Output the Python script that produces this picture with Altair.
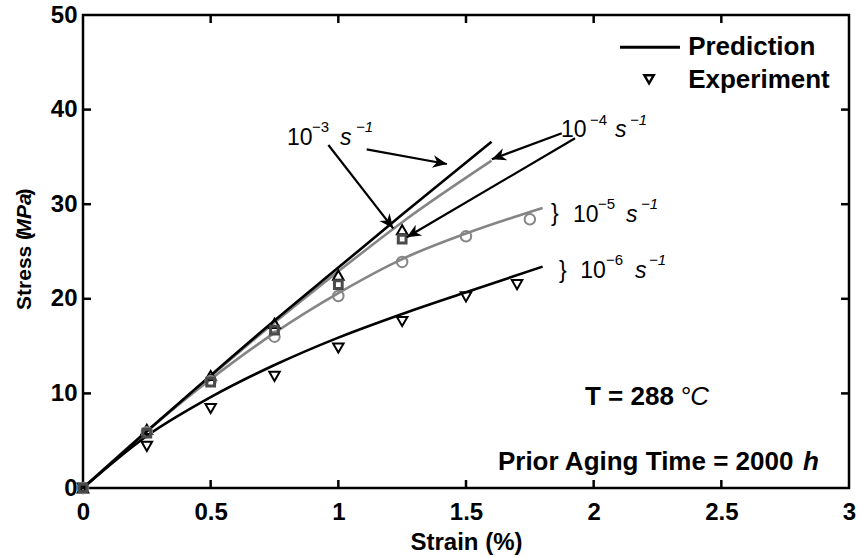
import math
import altair as alt
import pandas as pd

FONT = "Liberation Sans"
W, H = 766, 473

# ---------------- data ----------------
x_ticks = [0, 0.5, 1, 1.5, 2, 2.5, 3]
y_ticks = [0, 10, 20, 30, 40, 50]

pred3_strain = [0, 0.25, 0.5, 0.75, 1.0, 1.25, 1.6]
pred3_stress = [0, 6.0, 11.9, 17.7, 23.3, 28.9, 36.6]
pred4_strain = [0, 0.25, 0.5, 0.75, 1.0, 1.25, 1.6]
pred4_stress = [0, 6.0, 11.8, 17.5, 22.9, 28.1, 34.6]
pred5_strain = [0, 0.25, 0.5, 0.75, 1.0, 1.25, 1.5, 1.8]
pred5_stress = [0, 6.0, 11.5, 16.4, 20.6, 24.2, 26.9, 29.6]
pred6_strain = [0, 0.25, 0.5, 0.75, 1.0, 1.25, 1.5, 1.8]
pred6_stress = [0, 5.5, 9.6, 13.0, 15.9, 18.4, 20.7, 23.4]

exp3_strain = [0, 0.25, 0.5, 0.75, 1.0, 1.25]
exp3_stress = [0, 6.2, 11.9, 17.4, 22.5, 27.3]
exp4_strain = [0, 0.25, 0.5, 0.75, 1.0, 1.25]
exp4_stress = [0, 5.8, 11.2, 16.7, 21.5, 26.3]
exp5_strain = [0, 0.25, 0.5, 0.75, 1.0, 1.25, 1.5, 1.75]
exp5_stress = [0, 5.9, 11.3, 16.0, 20.3, 23.9, 26.6, 28.4]
exp6_strain = [0, 0.25, 0.5, 0.75, 1.0, 1.25, 1.5, 1.7]
exp6_stress = [0, 4.4, 8.4, 11.8, 14.8, 17.6, 20.2, 21.5]

xs = alt.Scale(domain=[0, 3], nice=False, zero=False)
ys = alt.Scale(domain=[0, 50], nice=False, zero=False)
AX = alt.Axis(
    values=x_ticks, format="~g", domain=False, ticks=False, grid=False,
    labelFont=FONT, labelFontSize=24, labelFontWeight="bold", labelColor="black",
    labelPadding=12, labelFlush=False,
    title="Strain (%)", titleFont=FONT, titleFontSize=24, titleFontWeight="bold",
    titleColor="black", titlePadding=6)
AY = alt.Axis(
    values=y_ticks, format="d", domain=False, ticks=False, grid=False,
    labelFont=FONT, labelFontSize=24, labelFontWeight="bold", labelColor="black",
    labelPadding=6, labelFlush=False, title="")


def X(f="x"):
    return alt.X(f"{f}:Q", scale=xs, axis=AX, title="Strain (%)")


def Y(f="y"):
    return alt.Y(f"{f}:Q", scale=ys, axis=AY, title="")


def df(xv, yv, **extra):
    d = pd.DataFrame({"x": xv, "y": yv})
    for k, v in extra.items():
        d[k] = v
    return d


BLACK = "#000000"
GRAY = "#858585"
DGRAY = "#4a4a4a"


def line(xv, yv, color):
    return alt.Chart(df(xv, yv)).mark_line(
        color=color, strokeWidth=2.6, interpolate="monotone", clip=False
    ).encode(x=X(), y=Y())


def pts(xv, yv, shape, color, size=110, sw=2.0):
    return alt.Chart(df(xv, yv)).mark_point(
        shape=shape, color=color, filled=False, size=size, strokeWidth=sw, opacity=1
    ).encode(x=X(), y=Y())


# inward ticks on all four sides
tx = [v for v in x_ticks if 0 < v < 3]
tyv = [v for v in y_ticks if 0 < v < 50]
tick_len_x = 8 / (W / 3)
tick_len_y = 8 / (H / 50)
ticks_df = pd.concat([
    pd.DataFrame({"x": tx, "x2": tx, "y": [0] * len(tx), "y2": [tick_len_y] * len(tx)}),
    pd.DataFrame({"x": tx, "x2": tx, "y": [50] * len(tx), "y2": [50 - tick_len_y] * len(tx)}),
    pd.DataFrame({"x": [0] * len(tyv), "x2": [tick_len_x] * len(tyv), "y": tyv, "y2": tyv}),
    pd.DataFrame({"x": [3] * len(tyv), "x2": [3 - tick_len_x] * len(tyv), "y": tyv, "y2": tyv}),
])
ticks = alt.Chart(ticks_df).mark_rule(color=BLACK, strokeWidth=2.5).encode(
    x=X(), x2="x2:Q", y=Y(), y2="y2:Q")

# arrows (annotation) : start -> tip in data coordinates
arrows = pd.DataFrame({
    "x": [1.111, 0.961, 1.875, 1.927],
    "y": [35.8, 36.26, 37.5, 36.97],
    "x2": [1.425, 1.215, 1.601, 1.268],
    "y2": [34.25, 27.45, 34.75, 26.5],
})
arrows["ang"] = [
    math.degrees(math.atan2(-(r.y2 - r.y) * H / 50, (r.x2 - r.x) * W / 3)) % 360
    for r in arrows.itertuples()
]
arrow_shafts = alt.Chart(arrows).mark_rule(color=BLACK, strokeWidth=2.2).encode(
    x=X(), y=Y(), x2="x2:Q", y2="y2:Q")
arrow_heads = alt.Chart(arrows).mark_point(
    shape="M0,0L-1,-0.45L-0.7,0L-1,0.45Z", filled=True, color=BLACK, size=800, opacity=1
).encode(x=X("x2"), y=Y("y2"), angle=alt.Angle("ang:Q", scale=None))


def txt(d, size, weight="normal", style="normal", align="left", angle=0):
    return alt.Chart(d).mark_text(
        font=FONT, fontSize=size, fontWeight=weight, fontStyle=style, align=align,
        baseline="alphabetic", angle=angle, color="black"
    ).encode(x=X(), y=Y(), text="t:N")


# rate labels: base "10", exponent, "s", "-1"
base10 = df([0.799, 1.872, 1.919, 1.947], [36.26, 37.1, 28.1, 22.2], t=["10", "10", "10", "10"])
expo = df([0.897, 1.986, 2.017, 2.048], [37.6, 38.4, 29.5, 23.6], t=["−3", "−4", "−5", "−6"])
s_lab = df([1.007, 2.084, 2.127, 2.162], [36.26, 37.1, 28.1, 22.2], t=["s"] * 4)
m1 = df([1.069, 2.142, 2.185, 2.217], [37.6, 38.4, 29.5, 23.6], t=["−1"] * 4)
braces = df([1.833, 1.864], [28.2, 22.2], t=["}", "}"])

# legend
leg_line = alt.Chart(pd.DataFrame({"x": [2.103], "x2": [2.338], "y": [46.6]})).mark_rule(
    color=BLACK, strokeWidth=3).encode(x=X(), x2="x2:Q", y=Y())
leg_pt = pts([2.217], [43.2], "triangle-down", BLACK, size=90, sw=2.4)
leg_txt = df([2.37, 2.37], [45.8, 42.3], t=["Prediction", "Experiment"])

# condition annotations
ann_bold = df([1.966, 1.625], [8.77, 1.9], t=["T = 288", "Prior Aging Time = 2000"])
ann_ital = df([2.338], [8.77], t=["°C"])
ann_h = df([2.82], [1.9], t=["h"])

# y title composed to allow italic unit
ytitle_b = df([-0.2037, -0.2037], [18.82, 30.92], t=["Stress (", ")"])
ytitle_i = df([-0.2037], [26.58], t=["MPa"])

chart = alt.layer(
    ticks,
    line(pred4_strain, pred4_stress, GRAY),
    line(pred5_strain, pred5_stress, GRAY),
    line(pred6_strain, pred6_stress, BLACK),
    line(pred3_strain, pred3_stress, BLACK),
    pts(exp3_strain, exp3_stress, "triangle-up", BLACK),
    pts(exp6_strain, exp6_stress, "triangle-down", BLACK),
    pts(exp5_strain, exp5_stress, "circle", GRAY),
    pts(exp4_strain, exp4_stress, "square", DGRAY, size=60, sw=3.0),
    arrow_shafts,
    arrow_heads,
    txt(base10, 23),
    txt(expo, 15),
    txt(s_lab, 23, style="italic"),
    txt(m1, 15, style="italic"),
    txt(braces, 23),
    leg_line,
    leg_pt,
    txt(leg_txt, 26, weight="bold"),
    txt(ann_bold, 26, weight="bold"),
    txt(ann_ital, 26, style="italic"),
    txt(ann_h, 26, weight="bold", style="italic"),
    txt(ytitle_b, 21, weight="bold", angle=270),
    txt(ytitle_i, 21, weight="bold", style="italic", angle=270),
).properties(
    width=W, height=H,
    autosize=alt.AutoSizeParams(type="none"),
    padding={"left": 83, "top": 15, "right": 11, "bottom": 70},
    background="white",
).configure_view(stroke="black", strokeWidth=2.5)

chart.save("out.html", embed_options={"renderer": "svg", "actions": False})
